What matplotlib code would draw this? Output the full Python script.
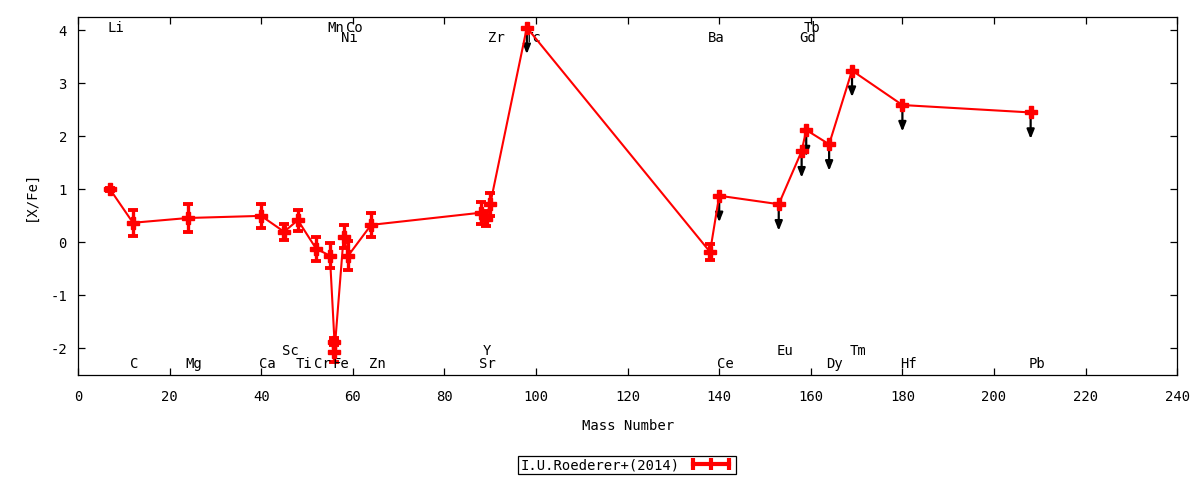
import matplotlib
matplotlib.use("Agg")
import matplotlib.pyplot as plt
from matplotlib.lines import Line2D
import numpy as np

# ---- data ----
elements = ['Li', 'C', 'Mg', 'Ca', 'Sc', 'Ti', 'Cr', 'Mn', 'Fe', 'Fe', 'Ni', 'Co', 'Zn',
            'Sr', 'Y', 'Zr', 'Tc', 'Ba', 'Ce', 'Eu', 'Gd', 'Tb', 'Dy', 'Tm', 'Hf', 'Pb']
mass = [7, 12, 24, 40, 45, 48, 52, 55, 56, 56, 58, 59, 64,
        88, 89, 90, 98, 138, 140, 153, 158, 159, 164, 169, 180, 208]
xfe = [1.00, 0.37, 0.46, 0.50, 0.20, 0.42, -0.12, -0.25, -1.87, -2.06, 0.11, -0.25, 0.33,
       0.56, 0.45, 0.72, 4.05, -0.18, 0.88, 0.72, 1.72, 2.12, 1.85, 3.24, 2.59, 2.45]
err = [0.03, 0.25, 0.27, 0.23, 0.15, 0.20, 0.23, 0.24, 0.07, 0.20, 0.22, 0.27, 0.22,
       0.21, 0.15, 0.22, 0.0, 0.15, 0.0, 0.0, 0.0, 0.0, 0.0, 0.0, 0.0, 0.0]
upper_limit = [0, 0, 0, 0, 0, 0, 0, 0, 0, 0, 0, 0, 0,
               0, 0, 0, 1, 0, 1, 1, 1, 1, 1, 1, 1, 1]
limit_arrow = 0.5

label_names = ['Li', 'C', 'Mg', 'Ca', 'Sc', 'Ti', 'Cr', 'Mn', 'Fe', 'Ni', 'Co', 'Zn',
               'Sr', 'Y', 'Zr', 'Tc', 'Ba', 'Ce', 'Eu', 'Gd', 'Tb', 'Dy', 'Tm', 'Hf', 'Pb']
label_mass = [7, 12, 24, 40, 45, 48, 52, 55, 56, 58, 59, 64,
              88, 89, 90, 98, 138, 140, 153, 158, 159, 164, 169, 180, 208]
label_y = [4.04, -2.29, -2.29, -2.29, -2.04, -2.29, -2.29, 4.04, -2.29, 3.86, 4.04, -2.29,
           -2.29, -2.04, 3.86, 3.86, 3.86, -2.29, -2.04, 3.86, 4.04, -2.29, -2.04, -2.29, -2.29]

xticks = list(range(0, 241, 20))
yticks = [-2, -1, 0, 1, 2, 3, 4]
legend_label = 'I.U.Roederer+(2014)'

# ---- style ----
plt.rcParams['font.family'] = ['DejaVu Sans Mono']
plt.rcParams['font.size'] = 10
plt.rcParams['axes.unicode_minus'] = False

fig = plt.figure(figsize=(12, 4.8), dpi=100)
ax = fig.add_axes([0.065, 0.2188, 0.916, 0.7458])

red = '#ff0000'
ax.errorbar(mass, xfe, yerr=err, color=red, lw=1.5, marker='P', ms=8,
            mec=red, mfc=red, ecolor=red, elinewidth=2.4, capsize=3.3, capthick=2.8,
            zorder=3)

for m, v, u in zip(mass, xfe, upper_limit):
    if u:
        ax.annotate('', xy=(m, v - limit_arrow), xytext=(m, v),
                    arrowprops=dict(arrowstyle='-|>,head_length=0.55,head_width=0.22',
                                    color='black', lw=1.6, shrinkA=0, shrinkB=0),
                    zorder=2)

for name, m, yy in zip(label_names, label_mass, label_y):
    ax.annotate(name, xy=(m, yy), xytext=(-2.5, 0), textcoords='offset pixels',
                ha='left', va='center', fontsize=10)

ax.set_xlim(0, 240)
ax.set_ylim(-2.5, 4.25)
ax.set_xticks(xticks)
ax.set_yticks(yticks)
ax.tick_params(direction='in', length=5, width=0.9, top=True, right=True,
               labelsize=10)
ax.tick_params(axis='x', pad=10.5)
ax.tick_params(axis='y', pad=8)
for s in ax.spines.values():
    s.set_linewidth(0.9)

ax.set_xlabel('Mass Number', fontsize=10, labelpad=11)
ax.set_ylabel('[X/Fe]', fontsize=10, labelpad=9)

handle = Line2D([], [], color=red, lw=3, marker='|', ms=8, mew=3)
leg = fig.legend([handle], [legend_label], loc='center',
                 bbox_to_anchor=(0.5225, 0.031), numpoints=3, markerfirst=False,
                 frameon=True, fancybox=False, edgecolor='black', borderpad=0.15,
                 handlelength=3.2, handletextpad=0.7, borderaxespad=0, fontsize=10)
leg.get_frame().set_linewidth(0.9)
leg.get_frame().set_alpha(None)

fig.savefig('out.png', dpi=100, facecolor='white')
